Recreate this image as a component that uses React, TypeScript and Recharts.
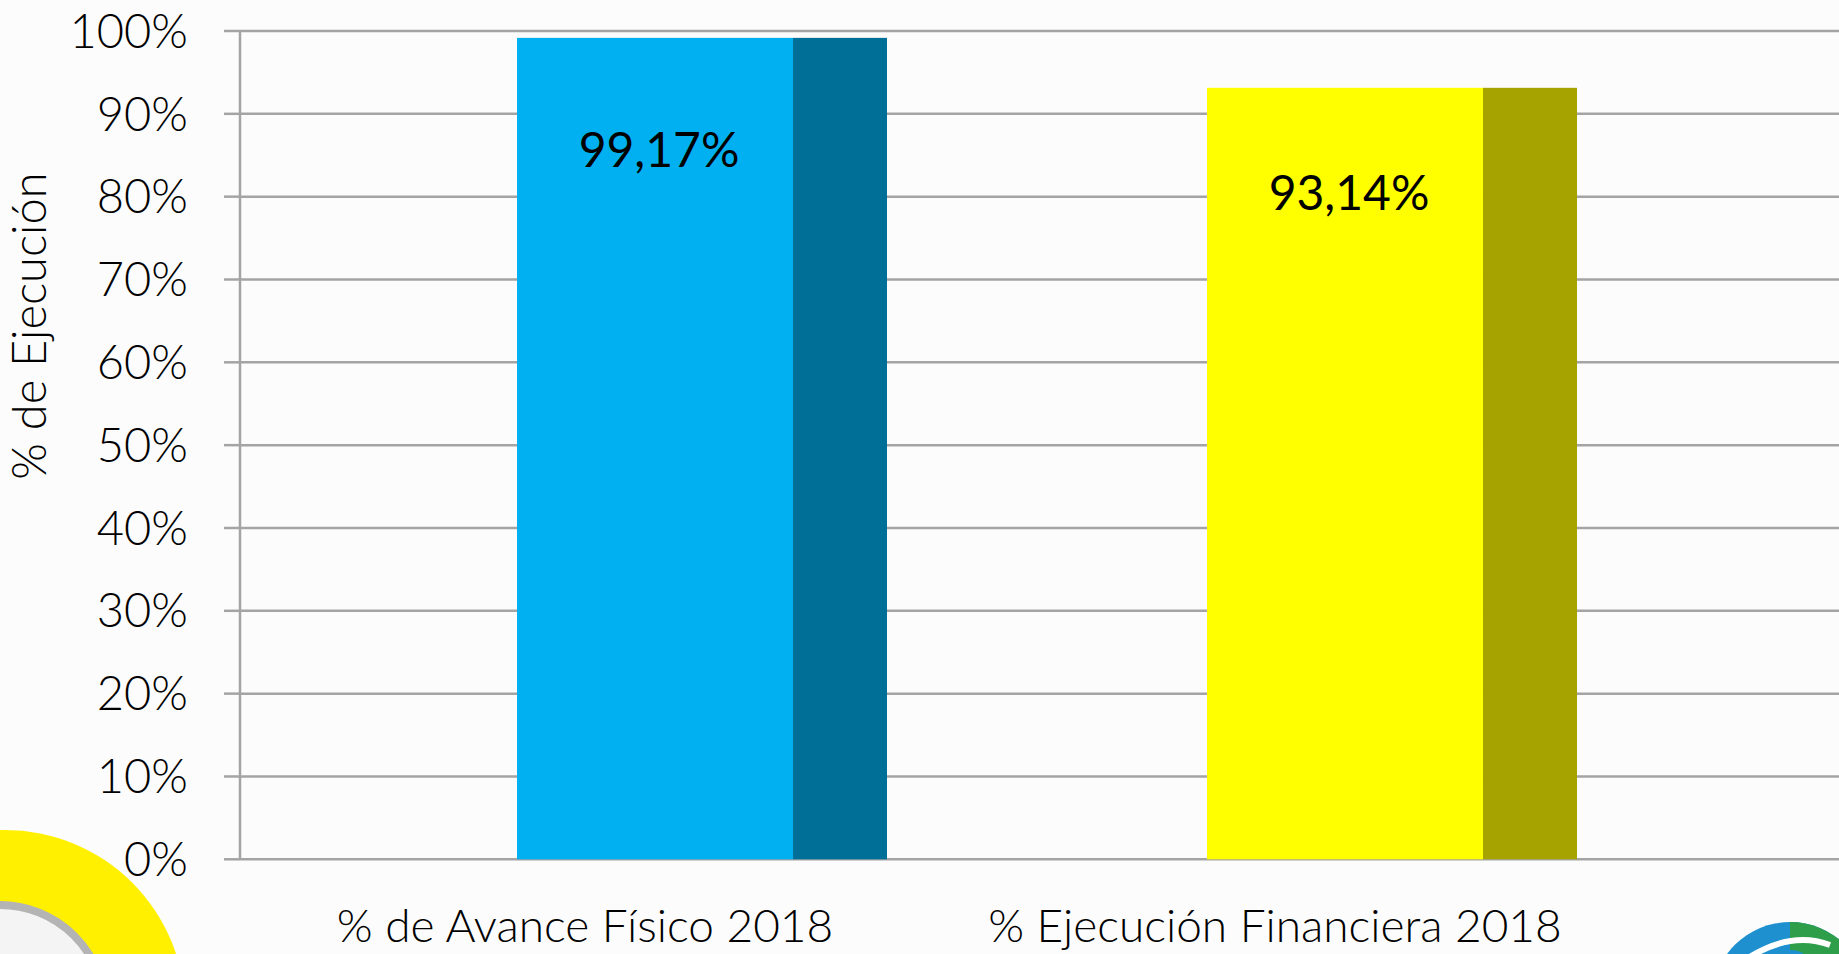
import React from 'react';
import { BarChart, Bar, XAxis, YAxis, CartesianGrid, LabelList } from 'recharts';

const categories = ['% de Avance Físico 2018', '% Ejecución Financiera 2018'];
const values = [99.17, 93.14];
const valueLabels = ['99,17%', '93,14%'];
const yTicks = [0, 10, 20, 30, 40, 50, 60, 70, 80, 90, 100];

const faceColors = ['#00B0F0', '#FFFF00'];
const sideColors = ['#006F98', '#A6A300'];
const FACE_RATIO = 0.746;
const LABEL_DEPTH = 0.136;
const FONT = 'Lato, "Open Sans", sans-serif';

const data = categories.map((c, i) => ({ cat: c, value: values[i], label: valueLabels[i] }));

const BarShape = (props: any) => {
  const { x, y, width, height, index } = props;
  const fw = width * FACE_RATIO;
  return (
    <g>
      <rect x={x} y={y} width={fw} height={height} fill={faceColors[index]} />
      <rect x={x + fw} y={y} width={width - fw} height={height} fill={sideColors[index]} />
    </g>
  );
};

const ValueLabel = (props: any) => {
  const { x, y, width, height, index } = props;
  const cx = x + (width * FACE_RATIO) / 2;
  const cy = y + height * LABEL_DEPTH;
  return (
    <text x={cx + 4} y={cy + 17} textAnchor="middle" fontSize={48} fontFamily={FONT} fill="#000">
      {valueLabels[index]}
    </text>
  );
};

const YTitle = () => {
  return (
    <text
      x={46}
      y={326}
      transform="rotate(-90, 46, 326)"
      textAnchor="middle"
      fontSize={47}
      fontWeight={300}
      fontFamily={FONT}
      fill="#000"
    >
      % de Ejecución
    </text>
  );
};

export default function App() {
  return (
    <div style={{ position: 'absolute', left: 0, top: 0, width: 1839, height: 954, background: '#fcfcfc', overflow: 'hidden' }}>
      <svg width={1839} height={954} style={{ position: 'absolute', left: 0, top: 0 }}>
        <circle cx={5} cy={1010} r={180} fill="#FFF000" />
        <circle cx={0} cy={1010} r={105} fill="#f4f4f4" stroke="#b4b4b4" strokeWidth={8} />
        <circle cx={1790} cy={1000} r={78} fill="#1E90D0" />
        <path d="M 1790 922 A 78 78 0 0 1 1868 1000 L 1820 1000 A 30 40 0 0 0 1790 950 Z" fill="#2E9E4A" />
        <path d="M 1745 960 Q 1790 930 1830 945" stroke="#ffffff" strokeWidth={6} fill="none" />
      </svg>
      <div style={{ position: 'absolute', left: 0, top: 0 }}>
        <BarChart
          width={1839}
          height={954}
          data={data}
          margin={{ top: 31, right: 0, bottom: 0, left: 0 }}
          barCategoryGap={0}
        >
          <CartesianGrid vertical={false} stroke="#a4a4a4" strokeWidth={2.5} />
          <XAxis
            xAxisId="cat"
            dataKey="cat"
            type="category"
            height={94.7}
            padding={{ left: 0, right: 219 }}
            axisLine={false}
            tickLine={false}
            tickSize={0}
            tickMargin={20}
            interval={0}
            tick={{ fontSize: 46, fontWeight: 300, fontFamily: FONT, fill: '#000' }}
          />
          <XAxis
            xAxisId="bar"
            dataKey="cat"
            type="category"
            hide
            padding={{ left: 117, right: 102 }}
          />
          <YAxis
            width={240}
            domain={[0, 100]}
            ticks={yTicks}
            interval={0}
            tickFormatter={(v: number) => `${v}%`}
            axisLine={{ stroke: '#a4a4a4', strokeWidth: 2.5 }}
            tickLine={{ stroke: '#a4a4a4', strokeWidth: 2.5 }}
            tickSize={16}
            tickMargin={36}
            tick={{ fontSize: 47, fontWeight: 300, fontFamily: FONT, fill: '#000' }}
            label={<YTitle />}
          />
          <Bar
            xAxisId="bar"
            dataKey="value"
            barSize={370}
            shape={<BarShape />}
            isAnimationActive={false}
          >
            <LabelList dataKey="label" content={<ValueLabel />} />
          </Bar>
        </BarChart>
      </div>
    </div>
  );
}
